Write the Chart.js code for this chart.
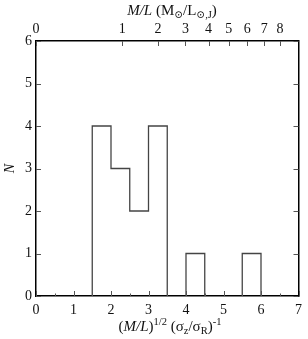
<!DOCTYPE html>
<html>
<head>
<meta charset="utf-8">
<script src="https://cdn.jsdelivr.net/npm/chart.js@4"></script>
<style>
  body { margin: 0; background: #fff; }
  #wrap { width: 308px; height: 339px; }
</style>
</head>
<body>
<div id="wrap"><canvas id="histChart" width="308" height="339"></canvas></div>
<script>
// histogram: left edge of each bin and its count
const binLeft = [1.5, 2.0, 2.5, 3.0, 4.0, 5.5];
const binCount = [4, 3, 2, 4, 1, 1];
const binWidth = 0.5;

// tick labels
const xTicks = [0, 1, 2, 3, 4, 5, 6, 7];
const yTicks = [0, 1, 2, 3, 4, 5, 6];
const topTicks = [0, 1, 2, 3, 4, 5, 6, 7, 8]; // M/L
const topFactor = 2.3; // bottom value = topFactor * sqrt(M/L)

const FONT = '"Liberation Serif", "DejaVu Serif", serif';

// split bins into contiguous groups -> one outline per group
const groups = [];
binLeft.forEach((left, i) => {
    if (i === 0 || Math.abs(binLeft[i - 1] + binWidth - left) > 1e-6) {
        groups.push([{ x: left, y: 0 }]);
    }
    const g = groups[groups.length - 1];
    g.push({ x: left, y: binCount[i] });
    const next = binLeft[i + 1];
    if (next === undefined || Math.abs(left + binWidth - next) > 1e-6) {
        g.push({ x: left + binWidth, y: 0 });
    }
});

const datasets = groups.map(g => ({
    data: g,
    stepped: 'before',
    borderColor: '#444',
    borderWidth: 1.3,
    pointRadius: 0,
    fill: false
}));

// draws text made of pieces (italic, sub/superscript)
function drawRich(ctx, segs, cx, baseY, size) {
    const fontFor = s => (s.italic ? 'italic ' : '') + (size * (s.scale || 1)) + 'px ' + FONT;
    let total = 0;
    segs.forEach(s => { ctx.font = fontFor(s); total += ctx.measureText(s.t).width; });
    let x = cx - total / 2;
    ctx.textAlign = 'left';
    ctx.textBaseline = 'alphabetic';
    segs.forEach(s => {
        ctx.font = fontFor(s);
        ctx.fillText(s.t, x, baseY + (s.dy || 0));
        x += ctx.measureText(s.t).width;
    });
}

const decor = {
    id: 'decor',
    afterDraw(chart) {
        const { ctx, chartArea: a, scales } = chart;
        ctx.save();
        ctx.strokeStyle = '#555';
        ctx.lineWidth = 1;
        ctx.beginPath();
        // bottom axis: major + minor ticks pointing inward
        xTicks.forEach(v => {
            let px = Math.round(scales.x.getPixelForValue(v)) + 0.5;
            ctx.moveTo(px, a.bottom); ctx.lineTo(px, a.bottom - 5);
            if (v < xTicks[xTicks.length - 1]) {
                px = Math.round(scales.x.getPixelForValue(v + 0.5)) + 0.5;
                ctx.moveTo(px, a.bottom); ctx.lineTo(px, a.bottom - 2.5);
            }
        });
        // top axis ticks
        topTicks.forEach(m => {
            const px = Math.round(scales.x2.getPixelForValue(topFactor * Math.sqrt(m))) + 0.5;
            ctx.moveTo(px, a.top); ctx.lineTo(px, a.top + 5);
        });
        // left and right ticks
        yTicks.forEach(v => {
            const py = Math.round(scales.y.getPixelForValue(v)) + 0.5;
            ctx.moveTo(a.left, py); ctx.lineTo(a.left + 5, py);
            ctx.moveTo(a.right, py); ctx.lineTo(a.right - 5, py);
        });
        ctx.stroke();

        ctx.fillStyle = '#111';
        // bottom title
        drawRich(ctx, [
            { t: '(' }, { t: 'M/L', italic: true }, { t: ')' },
            { t: '1/2', scale: 0.7, dy: -6 },
            { t: ' (σ' }, { t: 'z', scale: 0.7, dy: 3 },
            { t: '/σ' }, { t: 'R', scale: 0.7, dy: 3 }, { t: ')' },
            { t: '-1', scale: 0.7, dy: -6 }
        ], 170, 331, 15);
        // top title
        drawRich(ctx, [
            { t: 'M/L', italic: true }, { t: ' (M' },
            { t: '⊙', scale: 0.7, dy: 3 }, { t: '/L' },
            { t: '⊙,J', scale: 0.7, dy: 3 }, { t: ')' }
        ], 172, 15, 15);
        // y title
        ctx.translate(10, (a.top + a.bottom) / 2);
        ctx.rotate(-Math.PI / 2);
        drawRich(ctx, [{ t: 'N', italic: true }], 0, 4, 14);
        ctx.restore();
    }
};

const tickFont = { family: FONT, size: 14 };
const noGrid = { display: false, drawTicks: false };

new Chart(document.getElementById('histChart'), {
    type: 'line',
    data: { datasets: datasets },
    options: {
        responsive: false,
        animation: false,
        layout: { padding: 0 },
        plugins: { legend: { display: false }, tooltip: { enabled: false } },
        scales: {
            x: {
                type: 'linear', position: 'bottom', min: 0, max: 7,
                afterBuildTicks: s => { s.ticks = xTicks.map(v => ({ value: v })); },
                afterFit: s => { s.height = 43; },
                grid: noGrid,
                border: { display: true, color: '#000', width: 1.5 },
                ticks: { font: tickFont, color: '#111', padding: 6, maxRotation: 0, autoSkip: false }
            },
            x2: {
                type: 'linear', position: 'top', min: 0, max: 7,
                afterBuildTicks: s => { s.ticks = topTicks.map(m => ({ value: topFactor * Math.sqrt(m) })); },
                afterFit: s => { s.height = 41; },
                grid: noGrid,
                border: { display: true, color: '#000', width: 1.5 },
                ticks: {
                    font: tickFont, color: '#111', padding: 3, maxRotation: 0, autoSkip: false,
                    callback: (v, i) => topTicks[i]
                }
            },
            y: {
                type: 'linear', position: 'left', min: 0, max: 6,
                afterBuildTicks: s => { s.ticks = yTicks.map(v => ({ value: v })); },
                afterFit: s => { s.width = 36; },
                grid: noGrid,
                border: { display: true, color: '#000', width: 1.5 },
                ticks: { font: tickFont, color: '#111', padding: 4 }
            },
            y2: {
                type: 'linear', position: 'right', min: 0, max: 6,
                afterFit: s => { s.width = 7; },
                grid: noGrid,
                border: { display: true, color: '#000', width: 1.5 },
                ticks: { display: false }
            }
        }
    },
    plugins: [decor]
});
</script>
</body>
</html>
